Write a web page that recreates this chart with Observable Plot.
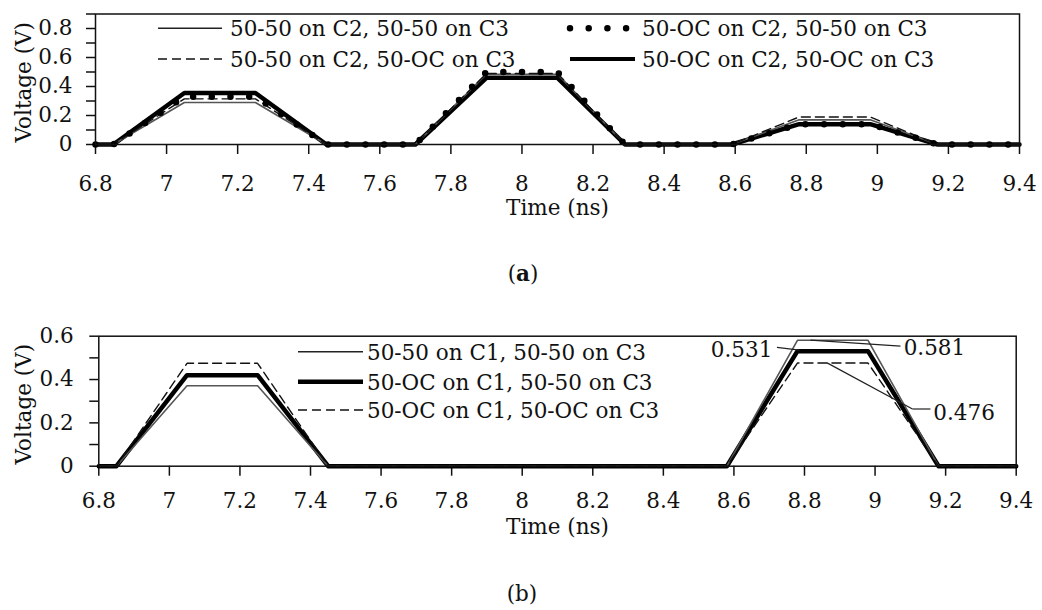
<!DOCTYPE html>
<html>
<head>
<meta charset="utf-8">
<script src="https://cdn.jsdelivr.net/npm/d3@7"></script>
<script src="https://cdn.jsdelivr.net/npm/@observablehq/plot@0.6"></script>
<style>
  html, body { margin: 0; padding: 0; background: #fff; }
  #wrap { position: relative; width: 1042px; height: 610px; overflow: hidden; }
  #wrap > svg { position: absolute; left: 0; display: block; }
</style>
</head>
<body>
<div id="wrap"></div>
<script>
// ---------------- Data ----------------
// Panel (a)
const timeA = [6.8, 6.85, 7.05, 7.25, 7.45, 7.70, 7.90, 8.10, 8.29, 8.59, 8.78, 8.98, 9.17, 9.4];
const namesA = ["50-50 on C2, 50-50 on C3", "50-50 on C2, 50-OC on C3", "50-OC on C2, 50-50 on C3", "50-OC on C2, 50-OC on C3"];
const voltA_5050_5050 = [0, 0, 0.29, 0.29, 0, 0, 0.485, 0.485, 0, 0, 0.17, 0.17, 0, 0];
const voltA_5050_50OC = [0, 0, 0.315, 0.315, 0, 0, 0.49, 0.49, 0, 0, 0.19, 0.19, 0, 0];
const voltA_50OC_5050 = [0, 0, 0.33, 0.33, 0, 0, 0.50, 0.50, 0, 0, 0.14, 0.14, 0, 0];
const voltA_50OC_50OC = [0, 0, 0.355, 0.355, 0, 0, 0.46, 0.46, 0, 0, 0.14, 0.14, 0, 0];

// Panel (b)
const timeB = [6.8, 6.85, 7.05, 7.25, 7.45, 8.58, 8.78, 8.98, 9.18, 9.4];
const namesB = ["50-50 on C1, 50-50 on C3", "50-OC on C1, 50-50 on C3", "50-OC on C1, 50-OC on C3"];
const voltB_5050_5050 = [0, 0, 0.371, 0.371, 0, 0, 0.581, 0.581, 0, 0];
const voltB_50OC_5050 = [0, 0, 0.42, 0.42, 0, 0, 0.531, 0.531, 0, 0];
const voltB_50OC_50OC = [0, 0, 0.475, 0.475, 0, 0, 0.476, 0.476, 0, 0];

// Annotations of panel (b)
const annLabels = ["0.531", "0.581", "0.476"];
const annValueT = [8.786, 8.817, 8.864];
const annValueV = [0.536, 0.582, 0.477];

// Ticks
const xTicks = [6.8, 7, 7.2, 7.4, 7.6, 7.8, 8, 8.2, 8.4, 8.6, 8.8, 9, 9.2, 9.4];
const xTickLabels = ["6.8", "7", "7.2", "7.4", "7.6", "7.8", "8", "8.2", "8.4", "8.6", "8.8", "9", "9.2", "9.4"];
const yTicksA = [0, 0.1, 0.2, 0.3, 0.4, 0.5, 0.6, 0.7, 0.8, 0.9];
const yTickLabelsA = ["0", "", "0.2", "", "0.4", "", "0.6", "", "0.8", ""];
const yTicksB = [0, 0.1, 0.2, 0.3, 0.4, 0.5, 0.6];
const yTickLabelsB = ["0", "", "0.2", "", "0.4", "", "0.6"];

// ---------------- Styles ----------------
const FONT = "DejaVu Serif";
const FS = 21.5;
const INK = "#111";
const thinStyle = {stroke: "#555", strokeWidth: 1.6};
const dashStyle = {stroke: "#111", strokeWidth: 1.4, strokeDasharray: "9 5"};
const thickStyle = {stroke: "#000", strokeWidth: 4.5};
const dotStyle = {stroke: "#000", strokeWidth: 6.5, strokeDasharray: "0 18.7", strokeLinecap: "round"};

const rows = (time, vals, name) => time.map((t, i) => ({t, v: vals[i], s: name}));

const common = (fsz) => ({
  fontFamily: FONT, fontSize: fsz + "px", color: INK, background: "transparent", overflow: "visible"
});

// ---------------- Panel (a) ----------------
const plotA = Plot.plot({
  width: 1042, height: 225,
  marginLeft: 95, marginRight: 23, marginTop: 13.5, marginBottom: 81,
  x: {domain: [6.8, 9.4]},
  y: {domain: [0, 0.9]},
  style: common(FS),
  marks: [
    Plot.axisY({ticks: yTicksA, tickFormat: d => yTickLabelsA[yTicksA.indexOf(d)], tickSize: 9, tickPadding: 14, strokeWidth: 1.5, label: null}),
    Plot.axisX({ticks: xTicks, tickFormat: d => xTickLabels[xTicks.indexOf(d)], tickSize: 10, tickPadding: 21, strokeWidth: 1.5, label: null}),
    Plot.line(rows(timeA, voltA_50OC_50OC, namesA[3]), {x: "t", y: "v", ...thickStyle}),
    Plot.line(rows(timeA, voltA_5050_5050, namesA[0]), {x: "t", y: "v", ...thinStyle}),
    Plot.line(rows(timeA, voltA_5050_50OC, namesA[1]), {x: "t", y: "v", ...dashStyle}),
    Plot.line(rows(timeA, voltA_50OC_5050, namesA[2]), {x: "t", y: "v", ...dotStyle}),
    Plot.frame({stroke: INK, strokeWidth: 1.5}),
    Plot.text(["Time (ns)"], {frameAnchor: "bottom", lineAnchor: "middle", textAnchor: "middle", dy: 63.5, fill: INK}),
    Plot.text(["Voltage (V)"], {frameAnchor: "left", textAnchor: "middle", lineAnchor: "middle", rotate: -90, dx: -71, dy: 3, fill: INK})
  ]
});

// ---------------- Panel (b) ----------------
const annRows = annLabels.map((l, i) => ({label: l, t: annValueT[i], v: annValueV[i]}));
// label anchor points (in data units) for leader lines
const annLabelPos = {
  "0.531": {t: 8.709, v: 0.534, lt: 8.722, lv: 0.548, anchor: "end"},
  "0.581": {t: 9.081, v: 0.543, lt: 9.072, lv: 0.554, anchor: "start"},
  "0.476": {t: 9.165, v: 0.243, lt: 9.157, lv: 0.264, bt: 9.106, anchor: "start"}
};
const leaderSegs = [];
annRows.forEach(a => {
  const p = annLabelPos[a.label];
  if (p.bt !== undefined) {
    leaderSegs.push({x1: p.lt, y1: p.lv, x2: p.bt, y2: p.lv});
    leaderSegs.push({x1: p.bt, y1: p.lv, x2: a.t, y2: a.v});
  } else {
    leaderSegs.push({x1: p.lt, y1: p.lv, x2: a.t, y2: a.v});
  }
});
const annTexts = annRows.map(a => ({...annLabelPos[a.label], label: a.label}));

const plotB = Plot.plot({
  width: 1042, height: 225,
  marginLeft: 98.3, marginRight: 26.3, marginTop: 15.7, marginBottom: 79.3,
  x: {domain: [6.8, 9.4]},
  y: {domain: [0, 0.6]},
  style: common(FS),
  marks: [
    Plot.axisY({ticks: yTicksB, tickFormat: d => yTickLabelsB[yTicksB.indexOf(d)], tickSize: 9, tickPadding: 16, strokeWidth: 1.5, label: null}),
    Plot.axisX({ticks: xTicks, tickFormat: d => xTickLabels[xTicks.indexOf(d)], tickSize: 10, tickPadding: 17, strokeWidth: 1.5, label: null}),
    Plot.line(rows(timeB, voltB_50OC_5050, namesB[1]), {x: "t", y: "v", ...thickStyle}),
    Plot.line(rows(timeB, voltB_5050_5050, namesB[0]), {x: "t", y: "v", ...thinStyle}),
    Plot.line(rows(timeB, voltB_50OC_50OC, namesB[2]), {x: "t", y: "v", ...dashStyle}),
    Plot.frame({stroke: INK, strokeWidth: 1.5}),
    Plot.link(leaderSegs, {x1: "x1", y1: "y1", x2: "x2", y2: "y2", stroke: "#222", strokeWidth: 1.2}),
    Plot.text(annTexts.filter(d => d.anchor === "end"), {x: "t", y: "v", text: "label", textAnchor: "end", fill: INK}),
    Plot.text(annTexts.filter(d => d.anchor === "start"), {x: "t", y: "v", text: "label", textAnchor: "start", fill: INK}),
    Plot.text(["Time (ns)"], {frameAnchor: "bottom", lineAnchor: "middle", textAnchor: "middle", dy: 60.5, fill: INK}),
    Plot.text(["Voltage (V)"], {frameAnchor: "left", textAnchor: "middle", lineAnchor: "middle", rotate: -90, dx: -74.3, dy: 3, fill: INK})
  ]
});

const wrap = document.getElementById("wrap");
plotA.style.top = "0px";
plotB.style.top = "320px";
wrap.appendChild(plotA);
wrap.appendChild(plotB);

// ---------------- Legends and panel captions (overlay) ----------------
const ov = d3.select(wrap).append("svg")
  .attr("width", 1042).attr("height", 610)
  .style("position", "absolute").style("left", "0px").style("top", "0px")
  .style("pointer-events", "none")
  .attr("font-family", FONT).attr("font-size", FS).attr("fill", INK);

function swatch(x1, x2, y, st) {
  ov.append("line").attr("x1", x1).attr("x2", x2).attr("y1", y).attr("y2", y)
    .attr("stroke", st.stroke).attr("stroke-width", st.strokeWidth)
    .attr("stroke-dasharray", st.strokeDasharray || null)
    .attr("stroke-linecap", st.strokeLinecap || "butt");
}
function label(x, yc, txt, anchor) {
  ov.append("text").attr("x", x).attr("y", yc + 7.8).attr("text-anchor", anchor || "start").text(txt);
}
// panel (a) legend
swatch(158, 222, 28.3, {...thinStyle, stroke: "#222"});
label(230, 28, namesA[0]);
swatch(158, 222, 59, dashStyle);
label(230, 59, namesA[1]);
swatch(570, 628, 28.3, dotStyle);
label(642, 28, namesA[2]);
swatch(570, 635, 59, {...thickStyle, strokeWidth: 4});
label(642, 59, namesA[3]);
// panel (b) legend
swatch(298, 363, 351.7, {...thinStyle, stroke: "#222"});
label(367, 352, namesB[0]);
swatch(298, 363, 381.7, thickStyle);
label(367, 382, namesB[1]);
swatch(298, 363, 410, dashStyle);
label(367, 410, namesB[2]);

// captions
const ta = ov.append("text").attr("x", 523).attr("y", 281).attr("text-anchor", "middle");
ta.append("tspan").text("(");
ta.append("tspan").attr("font-weight", "bold").text("a");
ta.append("tspan").text(")");
ov.append("text").attr("x", 522).attr("y", 601).attr("text-anchor", "middle").text("(b)");
</script>
</body>
</html>
